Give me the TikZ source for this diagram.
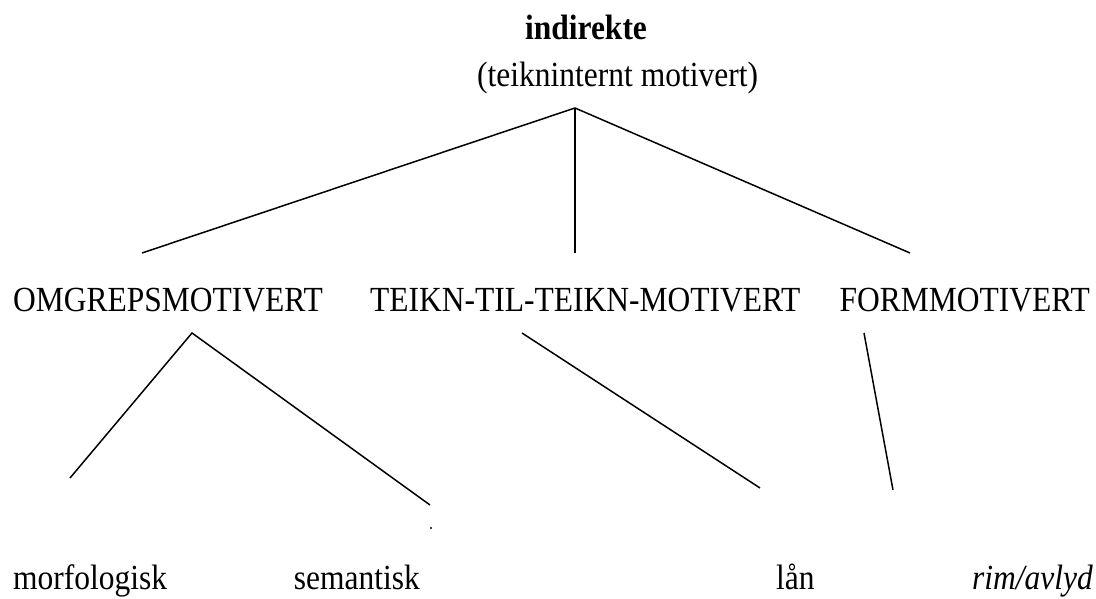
\documentclass[tikz,border=0pt]{standalone}
\usepackage{fontspec}
\usepackage{graphicx}
\setmainfont{Liberation Serif}
% text is set slightly taller than wide
\newcommand{\tall}[1]{\scalebox{1}[1.12]{#1}}
\begin{document}
\begin{tikzpicture}[x=1pt,y=-1pt,
  lbl/.style={inner sep=0pt,font=\fontsize{31.5}{36}\selectfont},
  branch/.style={line width=1.5pt,line cap=butt}]
\useasboundingbox (0,0) rectangle (1096,599);

% root
\node[lbl,anchor=base,font=\fontsize{31.5}{36}\selectfont\bfseries] (root) at (586,40) {\tall{indirekte}};
\node[lbl,anchor=base west] (rootsub) at (477,87) {\tall{(teikninternt motivert)}};

% middle level
\node[lbl,anchor=base west] (omg) at (13,311) {\tall{OMGREPSMOTIVERT}};
\node[lbl,anchor=base west] (tt) at (370,311) {\tall{TEIKN-TIL-TEIKN-MOTIVERT}};
\node[lbl,anchor=base east] (form) at (1090,311) {\tall{FORMMOTIVERT}};

% leaves
\node[lbl,anchor=base west] (morf) at (13,589) {\tall{morfologisk}};
\node[lbl,anchor=base east] (sem) at (420,589) {\tall{semantisk}};
\node[lbl,anchor=base west] (laan) at (776,589) {\tall{lån}};
\node[lbl,anchor=base east] (rim) at (1093,589) {\tall{\itshape rim/avlyd}};

% branch points
\coordinate (top) at (575,108);
\coordinate (t1) at (142,253);
\coordinate (t2) at (575,253);
\coordinate (t3) at (910,253);
\coordinate (oA) at (192,333);
\coordinate (oL) at (70,478);
\coordinate (oR) at (430,505);
\coordinate (tA) at (522,333);
\coordinate (tB) at (760,488);
\coordinate (fA) at (864,333);
\coordinate (fB) at (893,490);

\draw[branch] (t1) -- (top) -- (t3);
\draw[branch] (top) -- (t2);
\draw[branch] (oL) -- (oA) -- (oR);
\draw[branch] (tA) -- (tB);
\draw[branch] (fA) -- (fB);
\fill (431,528) circle (1.1);
\end{tikzpicture}
\end{document}
